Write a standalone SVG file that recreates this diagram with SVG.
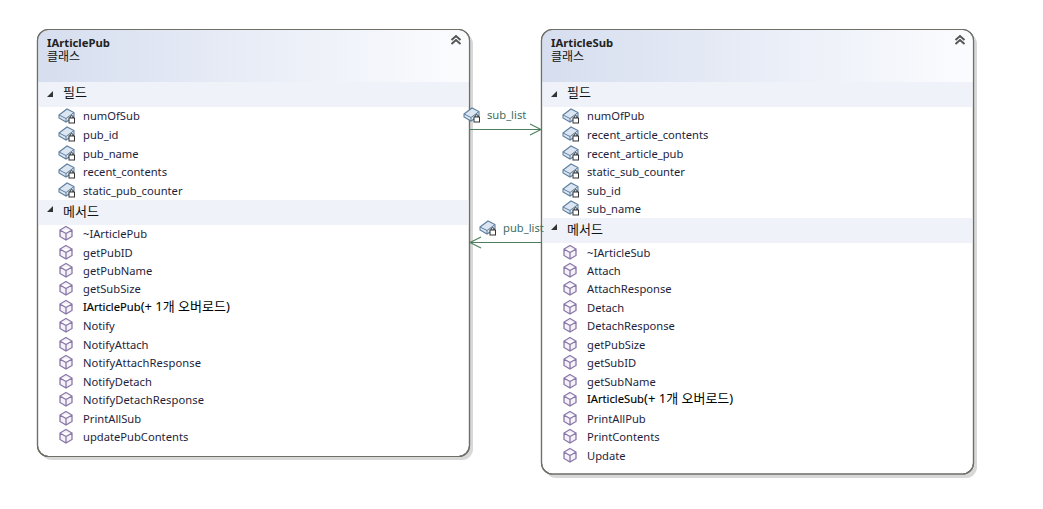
<svg xmlns="http://www.w3.org/2000/svg" width="1043" height="509" viewBox="0 0 1043 509">
<style>
text{font-family:"Noto Sans","Noto Sans CJK KR",sans-serif;font-size:11.2px;fill:#1e1e3c}
.title{font-weight:700;fill:#222;font-size:11.3px}
.sub{fill:#111;font-size:12px}
.sec{fill:#111;font-size:13px}
.lbl{fill:#3f6f5f}
.ov{fill:#000;stroke:#000;stroke-width:.15}
.ov .kr{font-size:13px;stroke-width:0}
.shadow{fill:#d8d8d8}
.box{fill:#fff;stroke:#6f6f68;stroke-width:1.2}
.band{fill:#eff2f9}
.conn{stroke:#4d7f5f;stroke-width:1.1;fill:none}
.chev{stroke:#555;stroke-width:1.9;fill:none}
.m path{fill:#f4f1f8;stroke:#8a78a8;stroke-width:1.3}
.f .bx{fill:#dbe6f2;stroke:#5f7f9f;stroke-width:1.1}
.f .lk{fill:#fff;stroke:#333;stroke-width:1}
.tri{fill:#333}
</style>
<defs>
<linearGradient id="hd" x1="0" y1="0" x2="1" y2="0"><stop offset="0" stop-color="#d6deef"/><stop offset="1" stop-color="#fbfcfe"/></linearGradient>
<g id="method" class="m"><path d="M0-6.500 6-3V3.500L0 7-6 3.500V-3ZM-6-3 0 .5 6-3M0 .5V7"/></g>
<g id="field" class="f"><path class="bx" d="M-8-1 0-7 7-3.500V1L-1 6-8 2Z"/><path d="M-8-1-1 2.500 7-3.500M-1 2.500V6" fill="none" stroke="#5f7f9f"/><rect class="lk" x="2" y="2" width="5.500" height="5"/><path d="M3.200 2V.5Q4.700-1.500 6.200 .5V2" fill="none" stroke="#333"/></g>
<g id="chevrons" class="chev"><path d="M-4.500-1 0-5 4.500-1M-4.500 3 0-1 4.500 3"/></g>
<path id="tri" class="tri" d="M0 4H6V-2Z"/>
</defs>
<g id="IArticlePub">
<rect class="shadow" x="41" y="33" width="432" height="427" rx="11"/>
<rect class="box" x="37.500" y="29.500" width="432" height="427" rx="11"/>
<path d="M38 82V41Q38 30 49 30H458Q469 30 469 41V82Z" fill="url(#hd)"/>
<rect class="band" x="38" y="82" width="431" height="25"/>
<rect class="band" x="38" y="200" width="431" height="25"/>
<rect class="box" style="fill:none" x="37.500" y="29.500" width="432" height="427" rx="11"/>
<text class="title" x="47" y="47">IArticlePub</text>
<text class="sub" x="47" y="61">클래스</text>
<use href="#chevrons" x="456" y="41"/>
<use href="#tri" x="47" y="93"/>
<text class="sec" x="63" y="97">필드</text>
<use href="#field" x="67" y="116"/><text x="83" y="120">numOfSub</text>
<use href="#field" x="67" y="134"/><text x="83" y="139">pub_id</text>
<use href="#field" x="67" y="153"/><text x="83" y="158">pub_name</text>
<use href="#field" x="67" y="171"/><text x="83" y="176">recent_contents</text>
<use href="#field" x="67" y="190"/><text x="83" y="195">static_pub_counter</text>
<use href="#tri" x="47" y="208"/>
<text class="sec" x="63" y="216">메서드</text>
<use href="#method" x="66" y="233"/><text x="83" y="238">~IArticlePub</text>
<use href="#method" x="66" y="252"/><text x="83" y="257">getPubID</text>
<use href="#method" x="66" y="270"/><text x="83" y="275">getPubName</text>
<use href="#method" x="66" y="288"/><text x="83" y="293">getSubSize</text>
<use href="#method" x="66" y="307"/><text class="ov" x="83" y="311">IArticlePub<tspan class="kr">(+ 1개 오버로드)</tspan></text>
<use href="#method" x="66" y="325"/><text x="83" y="330">Notify</text>
<use href="#method" x="66" y="344"/><text x="83" y="349">NotifyAttach</text>
<use href="#method" x="66" y="362"/><text x="83" y="367" textLength="118">NotifyAttachResponse</text>
<use href="#method" x="66" y="381"/><text x="83" y="386">NotifyDetach</text>
<use href="#method" x="66" y="399"/><text x="83" y="404" textLength="121">NotifyDetachResponse</text>
<use href="#method" x="66" y="418"/><text x="83" y="423">PrintAllSub</text>
<use href="#method" x="66" y="436"/><text x="83" y="441">updatePubContents</text>
</g>
<g id="IArticleSub">
<rect class="shadow" x="545" y="33" width="432" height="445" rx="11"/>
<rect class="box" x="541.500" y="29.500" width="432" height="444.500" rx="11"/>
<path d="M542 82V41Q542 30 553 30H962Q973 30 973 41V82Z" fill="url(#hd)"/>
<rect class="band" x="542" y="82" width="431" height="25"/>
<rect class="band" x="542" y="218" width="431" height="25"/>
<rect class="box" style="fill:none" x="541.500" y="29.500" width="432" height="444.500" rx="11"/>
<text class="title" x="551" y="47">IArticleSub</text>
<text class="sub" x="551" y="61">클래스</text>
<use href="#chevrons" x="960" y="41"/>
<use href="#tri" x="551" y="93"/>
<text class="sec" x="567" y="97">필드</text>
<use href="#field" x="571" y="116"/><text x="587" y="120">numOfPub</text>
<use href="#field" x="571" y="134"/><text x="587" y="139">recent_article_contents</text>
<use href="#field" x="571" y="153"/><text x="587" y="158">recent_article_pub</text>
<use href="#field" x="571" y="171"/><text x="587" y="176">static_sub_counter</text>
<use href="#field" x="571" y="190"/><text x="587" y="195">sub_id</text>
<use href="#field" x="571" y="208"/><text x="587" y="213">sub_name</text>
<use href="#tri" x="551" y="226"/>
<text class="sec" x="567" y="234">메서드</text>
<use href="#method" x="570" y="252"/><text x="587" y="257">~IArticleSub</text>
<use href="#method" x="570" y="270"/><text x="587" y="275">Attach</text>
<use href="#method" x="570" y="288"/><text x="587" y="293">AttachResponse</text>
<use href="#method" x="570" y="307"/><text x="587" y="312">Detach</text>
<use href="#method" x="570" y="325"/><text x="587" y="330">DetachResponse</text>
<use href="#method" x="570" y="344"/><text x="587" y="349">getPubSize</text>
<use href="#method" x="570" y="362"/><text x="587" y="367">getSubID</text>
<use href="#method" x="570" y="381"/><text x="587" y="386">getSubName</text>
<use href="#method" x="570" y="399"/><text class="ov" x="587" y="403">IArticleSub<tspan class="kr">(+ 1개 오버로드)</tspan></text>
<use href="#method" x="570" y="418"/><text x="587" y="423">PrintAllPub</text>
<use href="#method" x="570" y="436"/><text x="587" y="441">PrintContents</text>
<use href="#method" x="570" y="455"/><text x="587" y="460">Update</text>
</g>
<g id="connectors">
<path class="conn" d="M470 129.500H541M530 124 541 129.500 530 135"/>
<path class="conn" d="M541 242.500H470M481 237 470 242.500 481 248"/>
<use href="#field" x="472" y="115"/>
<text class="lbl" x="487" y="119">sub_list</text>
<use href="#field" x="488" y="228"/>
<text class="lbl" x="503" y="232">pub_list</text>
</g>
</svg>
